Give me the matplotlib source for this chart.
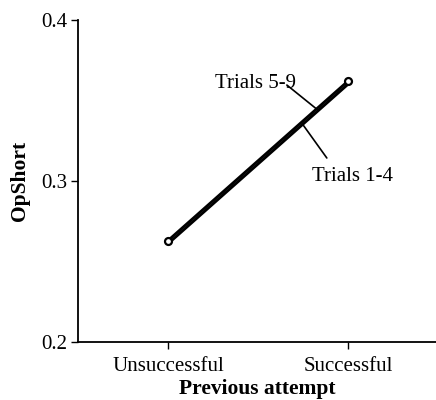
import matplotlib
matplotlib.use("Agg")
import matplotlib.pyplot as plt

categories = ["Unsuccessful", "Successful"]
trials_1_4 = [0.261, 0.360]
trials_5_9 = [0.263, 0.362]
yticks = [0.2, 0.3, 0.4]

plt.rcParams['font.family'] = ['Liberation Serif', 'DejaVu Serif']

fig = plt.figure(figsize=(4.36, 4.0), dpi=100)
ax = fig.add_axes([0.179, 0.145, 0.821, 0.805])

x = list(range(len(categories)))
ax.plot(x, trials_1_4, color='black', lw=2.0, solid_capstyle='round')
ax.plot(x, trials_5_9, color='black', lw=2.0, solid_capstyle='round',
        marker='o', ms=5, mfc='white', mec='black', mew=1.6)

ax.set_xlim(-0.5, 1.49)
ax.set_ylim(0.2, 0.4)
ax.set_xticks(x)
ax.set_xticklabels(categories)
ax.set_yticks(yticks)
ax.set_yticklabels(["0.2", "0.3", "0.4"])
ax.tick_params(labelsize=15, length=5, width=1, direction='out', pad=3)
ax.tick_params(axis='x', pad=6)

ax.spines['top'].set_visible(False)
ax.spines['right'].set_visible(False)
for s in ['left', 'bottom']:
    ax.spines[s].set_linewidth(1.3)

ax.set_xlabel("Previous attempt", fontsize=15.5, fontweight='bold', labelpad=2)
ax.set_ylabel("OpShort", fontsize=15.5, fontweight='bold', labelpad=8)

# leader lines + labels
ax.annotate('', xy=(0.833, 0.3441), xytext=(0.661, 0.3596),
            arrowprops=dict(arrowstyle='-', lw=1.2, shrinkA=0, shrinkB=0))
ax.text(0.489, 0.3605, "Trials 5-9", fontsize=15, ha='center', va='center')

ax.annotate('', xy=(0.75, 0.335), xytext=(0.883, 0.3143),
            arrowprops=dict(arrowstyle='-', lw=1.2, shrinkA=0, shrinkB=0))
ax.text(1.028, 0.3030, "Trials 1-4", fontsize=15, ha='center', va='center')

fig.savefig("out.png", dpi=100)
